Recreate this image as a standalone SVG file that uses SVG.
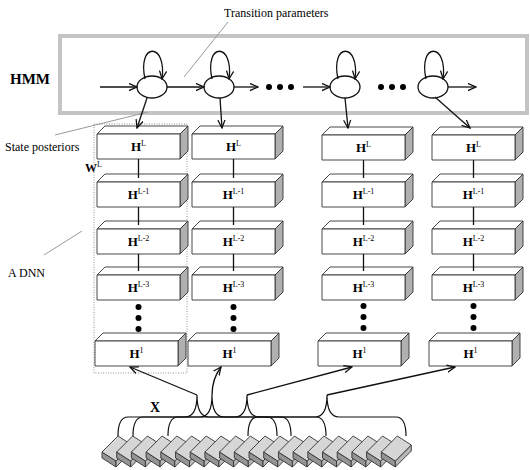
<svg xmlns="http://www.w3.org/2000/svg" xmlns:xlink="http://www.w3.org/1999/xlink" width="530" height="470" viewBox="0 0 530 470">
  <style>
    text { font-family: "Liberation Serif", "Times New Roman", serif; fill: #000; }
    .lbl { font-size: 12px; }
    .big { font-size: 15px; font-weight: bold; }
    .h { font-size: 13px; font-weight: bold; text-anchor: middle; }
    .sup { font-size: 8px; font-weight: normal; }
    .ln { fill: none; stroke: #111; stroke-width: 1.3; }
    .arr { fill: none; stroke: #111; stroke-width: 1.3; marker-end: url(#v); }
    .lead { fill: none; stroke: #9a9a9a; stroke-width: 1; }
    .state { fill: #fff; stroke: #111; stroke-width: 1.3; }
    .dot { fill: #000; }
    .face { stroke: #333; stroke-width: 0.9; stroke-linejoin: round; }
    .brace { fill: none; stroke: #111; stroke-width: 1.2; }
  </style>
  <defs>
    <marker id="v" viewBox="0 0 10 10" refX="9" refY="5" markerWidth="9" markerHeight="9" markerUnits="userSpaceOnUse" orient="auto">
      <path d="M0,1 L9,5 L0,9" fill="none" stroke="#111" stroke-width="1.4"/>
    </marker>
    <!-- layer cuboid, origin at front-left top corner -->
    <g id="cube">
      <path class="face" d="M0,0 L8,-8 L91,-8 L83,0 Z" fill="#fff"/>
      <path class="face" d="M83,0 L91,-8 L91,17 L83,25 Z" fill="#b0b0b0"/>
      <rect class="face" x="0" y="0" width="83" height="25" fill="#fff"/>
    </g>
    <!-- input frame brick, origin at left corner -->
    <g id="brick">
      <path class="face" d="M0,0 L14,9 L14,15 L0,6 Z" fill="#959595"/>
      <path class="face" d="M14,9 L30,-7 L30,-1 L14,15 Z" fill="#b8b8b8"/>
      <path class="face" d="M0,0 L16,-16 L30,-7 L14,9 Z" fill="#d6d6d6"/>
    </g>
  </defs>

  <!-- HMM frame -->
  <rect x="60" y="36" width="467" height="77" fill="none" stroke="#c4c4c4" stroke-width="4"/>
  <text class="big" x="10" y="84">HMM</text>
  <text class="lbl" x="224" y="17">Transition parameters</text>
  <text class="lbl" x="5" y="151">State posteriors</text>
  <text class="lbl" x="8" y="277">A DNN</text>
  <text x="85" y="172" style="font-size:12px;font-weight:bold">W<tspan class="sup" dy="-5">L</tspan></text>
  <text x="150" y="412" style="font-size:14px;font-weight:bold">X</text>

  <!-- leader lines -->
  <g id="leaders">
    <line class="lead" x1="228" y1="22" x2="184" y2="77"/>
    <line class="lead" x1="55" y1="135" x2="148" y2="112"/>
    <line class="lead" x1="44" y1="255" x2="82" y2="231"/>
  </g>

  <!-- DNN column outline -->
  <rect x="94" y="124" width="93" height="249" fill="none" stroke="#777" stroke-width="0.8" stroke-dasharray="1,1.5"/>

  <!-- HMM states -->
  <g id="state1"><ellipse class="state" cx="152" cy="87" rx="15" ry="11"/></g>
  <g id="state2"><ellipse class="state" cx="219" cy="87" rx="15" ry="11"/></g>
  <g id="state3"><ellipse class="state" cx="345" cy="87" rx="15" ry="11"/></g>
  <g id="state4"><ellipse class="state" cx="433" cy="87" rx="15" ry="11"/></g>
  <g id="dots-hmm">
    <circle class="dot" cx="269" cy="87" r="3"/><circle class="dot" cx="280" cy="87" r="3"/><circle class="dot" cx="291" cy="87" r="3"/>
    <circle class="dot" cx="381" cy="87" r="3"/><circle class="dot" cx="392" cy="87" r="3"/><circle class="dot" cx="403" cy="87" r="3"/>
  </g>

  <!-- DNN column 1 -->
  <g id="col1">
    <use xlink:href="#cube" x="97" y="134"/><text class="h" x="138.5" y="151">H<tspan class="sup" dy="-5">L</tspan></text>
    <use xlink:href="#cube" x="97" y="182"/><text class="h" x="138.5" y="199">H<tspan class="sup" dy="-5">L-1</tspan></text>
    <use xlink:href="#cube" x="97" y="229"/><text class="h" x="138.5" y="246">H<tspan class="sup" dy="-5">L-2</tspan></text>
    <use xlink:href="#cube" x="97" y="275"/><text class="h" x="138.5" y="292">H<tspan class="sup" dy="-5">L-3</tspan></text>
    <use xlink:href="#cube" x="95" y="341"/><text class="h" x="136.5" y="358">H<tspan class="sup" dy="-5">1</tspan></text>
  </g>
  <!-- DNN column 2 -->
  <g id="col2">
    <use xlink:href="#cube" x="192" y="134"/><text class="h" x="233.5" y="151">H<tspan class="sup" dy="-5">L</tspan></text>
    <use xlink:href="#cube" x="192" y="182"/><text class="h" x="233.5" y="199">H<tspan class="sup" dy="-5">L-1</tspan></text>
    <use xlink:href="#cube" x="192" y="229"/><text class="h" x="233.5" y="246">H<tspan class="sup" dy="-5">L-2</tspan></text>
    <use xlink:href="#cube" x="192" y="275"/><text class="h" x="233.5" y="292">H<tspan class="sup" dy="-5">L-3</tspan></text>
    <use xlink:href="#cube" x="188" y="341"/><text class="h" x="229.5" y="358">H<tspan class="sup" dy="-5">1</tspan></text>
  </g>
  <!-- DNN column 3 -->
  <g id="col3">
    <use xlink:href="#cube" x="322" y="135"/><text class="h" x="363.5" y="152">H<tspan class="sup" dy="-5">L</tspan></text>
    <use xlink:href="#cube" x="322" y="182"/><text class="h" x="363.5" y="199">H<tspan class="sup" dy="-5">L-1</tspan></text>
    <use xlink:href="#cube" x="322" y="229"/><text class="h" x="363.5" y="246">H<tspan class="sup" dy="-5">L-2</tspan></text>
    <use xlink:href="#cube" x="322" y="275"/><text class="h" x="363.5" y="292">H<tspan class="sup" dy="-5">L-3</tspan></text>
    <use xlink:href="#cube" x="318" y="341"/><text class="h" x="359.5" y="358">H<tspan class="sup" dy="-5">1</tspan></text>
  </g>
  <!-- DNN column 4 -->
  <g id="col4">
    <use xlink:href="#cube" x="432" y="135"/><text class="h" x="473.5" y="152">H<tspan class="sup" dy="-5">L</tspan></text>
    <use xlink:href="#cube" x="432" y="182"/><text class="h" x="473.5" y="199">H<tspan class="sup" dy="-5">L-1</tspan></text>
    <use xlink:href="#cube" x="432" y="229"/><text class="h" x="473.5" y="246">H<tspan class="sup" dy="-5">L-2</tspan></text>
    <use xlink:href="#cube" x="432" y="275"/><text class="h" x="473.5" y="292">H<tspan class="sup" dy="-5">L-3</tspan></text>
    <use xlink:href="#cube" x="429" y="341"/><text class="h" x="470.5" y="358">H<tspan class="sup" dy="-5">1</tspan></text>
  </g>

  <!-- input frames -->
  <g id="frames">
    <use xlink:href="#brick" x="102" y="452"/><use xlink:href="#brick" x="116.7" y="452"/>
    <use xlink:href="#brick" x="131.4" y="452"/><use xlink:href="#brick" x="146.1" y="452"/>
    <use xlink:href="#brick" x="160.8" y="452"/><use xlink:href="#brick" x="175.5" y="452"/>
    <use xlink:href="#brick" x="190.2" y="452"/><use xlink:href="#brick" x="204.9" y="452"/>
    <use xlink:href="#brick" x="219.6" y="452"/><use xlink:href="#brick" x="234.3" y="452"/>
    <use xlink:href="#brick" x="249" y="452"/><use xlink:href="#brick" x="263.7" y="452"/>
    <use xlink:href="#brick" x="278.4" y="452"/><use xlink:href="#brick" x="293.1" y="452"/>
    <use xlink:href="#brick" x="307.8" y="452"/><use xlink:href="#brick" x="322.5" y="452"/>
    <use xlink:href="#brick" x="337.2" y="452"/><use xlink:href="#brick" x="351.9" y="452"/>
    <use xlink:href="#brick" x="366.6" y="452"/><use xlink:href="#brick" x="381.3" y="452"/>
  </g>

  <!-- connectors -->
  <g id="connectors">
    <!-- HMM transitions -->
    <line class="arr" x1="100" y1="87" x2="137" y2="87"/>
    <line class="arr" x1="167" y1="87" x2="204" y2="87"/>
    <line class="arr" x1="234" y1="87" x2="258" y2="87"/>
    <line class="arr" x1="303" y1="87" x2="330" y2="87"/>
    <line class="arr" x1="448" y1="87" x2="476" y2="87"/>
    <!-- self loops -->
    <path class="arr" d="M145,79 C137,42 167,42 162,79"/>
    <path class="arr" d="M212,79 C204,42 234,42 229,79"/>
    <path class="arr" d="M338,79 C330,42 360,42 355,79"/>
    <path class="arr" d="M426,79 C418,42 448,42 443,79"/>
    <!-- state posteriors to output layers -->
    <line class="arr" x1="147" y1="98" x2="137" y2="128"/>
    <line class="arr" x1="220" y1="98" x2="222" y2="128"/>
    <line class="arr" x1="345" y1="98" x2="348" y2="128"/>
    <line class="arr" x1="435" y1="97" x2="470" y2="128"/>
    <!-- layer links -->
    <path class="ln" d="M138.5,159 V178 M138.5,207 V225 M138.5,254 V271"/>
    <path class="ln" d="M233.5,159 V178 M233.5,207 V225 M233.5,254 V271"/>
    <path class="ln" d="M363.5,160 V178 M363.5,207 V225 M363.5,254 V271"/>
    <path class="ln" d="M473.5,160 V178 M473.5,207 V225 M473.5,254 V271"/>
    <!-- skipped layers -->
    <circle class="dot" cx="138.5" cy="307" r="3"/><circle class="dot" cx="138.5" cy="318" r="3"/><circle class="dot" cx="138.5" cy="329" r="3"/>
    <circle class="dot" cx="233.5" cy="307" r="3"/><circle class="dot" cx="233.5" cy="318" r="3"/><circle class="dot" cx="233.5" cy="329" r="3"/>
    <circle class="dot" cx="363.5" cy="306" r="3"/><circle class="dot" cx="363.5" cy="317" r="3"/><circle class="dot" cx="363.5" cy="328" r="3"/>
    <circle class="dot" cx="473.5" cy="306" r="3"/><circle class="dot" cx="473.5" cy="317" r="3"/><circle class="dot" cx="473.5" cy="328" r="3"/>
    <!-- context windows -->
    <path class="brace" d="M118,436 Q118,417 128,417 L185,417 Q197,417 197,395 Q197,417 209,417 L267,417 Q277,417 277,436"/>
    <path class="brace" d="M133,436 Q133,417 143,417 L200,417 Q212,417 212,395 Q212,417 224,417 L281,417 Q291,417 291,436"/>
    <path class="brace" d="M168,436 Q168,417 178,417 L235,417 Q247,417 247,395 Q247,417 259,417 L316,417 Q326,417 326,436"/>
    <path class="brace" d="M248,436 Q248,417 258,417 L315,417 Q327,417 327,395 Q327,417 339,417 L396,417 Q406,417 406,436"/>
    <!-- windows to input layers -->
    <line class="arr" x1="197" y1="395" x2="130" y2="367"/>
    <path class="arr" d="M212,395 Q212,379 221,367"/>
    <line class="arr" x1="247" y1="395" x2="352" y2="367"/>
    <line class="arr" x1="327" y1="395" x2="455" y2="367"/>
  </g>
</svg>
